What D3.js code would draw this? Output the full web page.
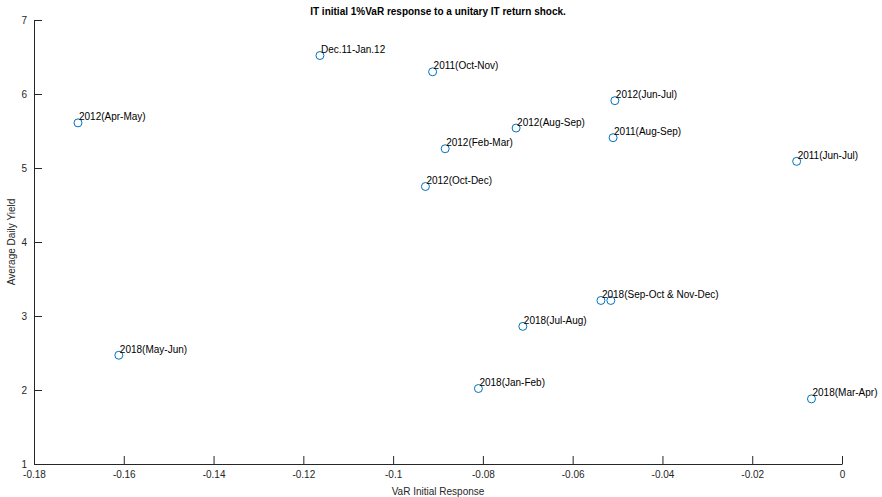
<!DOCTYPE html>
<html>
<head>
<meta charset="utf-8">
<script src="https://cdn.jsdelivr.net/npm/d3@7"></script>
<style>
  html, body { margin: 0; padding: 0; background: #fff; }
  svg { display: block; font-family: "Liberation Sans", Arial, Helvetica, sans-serif; }
</style>
</head>
<body>
<svg id="chart" width="882" height="497"></svg>
<script>
// Data
const labels = [
  "Dec.11-Jan.12", "2011(Oct-Nov)", "2012(Jun-Jul)", "2012(Apr-May)", "2012(Aug-Sep)",
  "2011(Aug-Sep)", "2012(Feb-Mar)", "2011(Jun-Jul)", "2012(Oct-Dec)",
  "2018(Sep-Oct & Nov-Dec)", "", "2018(Jul-Aug)", "2018(May-Jun)", "2018(Jan-Feb)", "2018(Mar-Apr)"
];
const varResponse = [
  -0.1163, -0.0912, -0.0506, -0.1702, -0.0726,
  -0.0510, -0.0884, -0.0101, -0.0928,
  -0.0537, -0.0515, -0.0711, -0.1611, -0.0810, -0.0068
];
const avgYield = [
  6.52, 6.30, 5.91, 5.61, 5.54,
  5.41, 5.26, 5.09, 4.75,
  3.21, 3.21, 2.86, 2.47, 2.02, 1.88
];
const xTicks = [-0.18, -0.16, -0.14, -0.12, -0.1, -0.08, -0.06, -0.04, -0.02, 0];
const yTicks = [1, 2, 3, 4, 5, 6, 7];

const titleText = "IT initial 1%VaR response to a unitary IT return shock.";
const xLabel = "VaR Initial Response";
const yLabel = "Average Daily Yield";

(function () {
const svg = d3.select("#chart");
const mLeft = 34, mRight = 842, mTop = 20, mBottom = 464;
const axisColor = "#262626";

const x = d3.scaleLinear().domain([-0.18, 0]).range([mLeft, mRight]);
const y = d3.scaleLinear().domain([1, 7]).range([mBottom, mTop]);

// X axis
const xAxis = d3.axisBottom(x).tickValues(xTicks).tickSizeInner(-8).tickSizeOuter(0)
  .tickPadding(7).tickFormat(d => d === 0 ? "0" : String(+d.toFixed(2)));
const gx = svg.append("g").attr("transform", `translate(0,${mBottom})`).call(xAxis);
gx.select(".domain").attr("stroke", axisColor).attr("stroke-width", 1);
gx.selectAll(".tick line").attr("stroke", axisColor);
gx.selectAll(".tick text").attr("fill", axisColor).attr("font-size", 10)
  .attr("font-family", "'Liberation Sans', Arial, sans-serif");

// Y axis
const yAxis = d3.axisLeft(y).tickValues(yTicks).tickSizeInner(-8).tickSizeOuter(0)
  .tickPadding(7).tickFormat(d3.format("d"));
const gy = svg.append("g").attr("transform", `translate(${mLeft},0)`).call(yAxis);
gy.select(".domain").attr("stroke", axisColor).attr("stroke-width", 1);
gy.selectAll(".tick line").attr("stroke", axisColor);
gy.selectAll(".tick text").attr("fill", axisColor).attr("font-size", 10)
  .attr("font-family", "'Liberation Sans', Arial, sans-serif");

// Points
const pts = varResponse.map((v, i) => ({ x: v, y: avgYield[i], label: labels[i] }));
svg.append("g").selectAll("circle").data(pts).enter().append("circle")
  .attr("cx", d => x(d.x)).attr("cy", d => y(d.y)).attr("r", 4)
  .attr("fill", "none").attr("stroke", "#0072BD").attr("stroke-width", 1);

// Labels
svg.append("g").selectAll("text").data(pts.filter(d => d.label)).enter().append("text")
  .attr("x", d => x(d.x) + 1).attr("y", d => y(d.y) - 6)
  .attr("dy", "0.35em").attr("font-size", 10).attr("fill", "#000")
  .text(d => d.label);

// Title
svg.append("text").attr("x", 438).attr("y", 15).attr("text-anchor", "middle")
  .attr("font-size", 10).attr("font-weight", "bold").attr("fill", "#000").text(titleText);

// Axis labels
svg.append("text").attr("x", (mLeft + mRight) / 2).attr("y", 495).attr("text-anchor", "middle")
  .attr("font-size", 10).attr("fill", axisColor).text(xLabel);
svg.append("text").attr("transform", `translate(15,${(mTop + mBottom) / 2}) rotate(-90)`)
  .attr("text-anchor", "middle").attr("font-size", 10).attr("fill", axisColor).text(yLabel);
})();
</script>
</body>
</html>
